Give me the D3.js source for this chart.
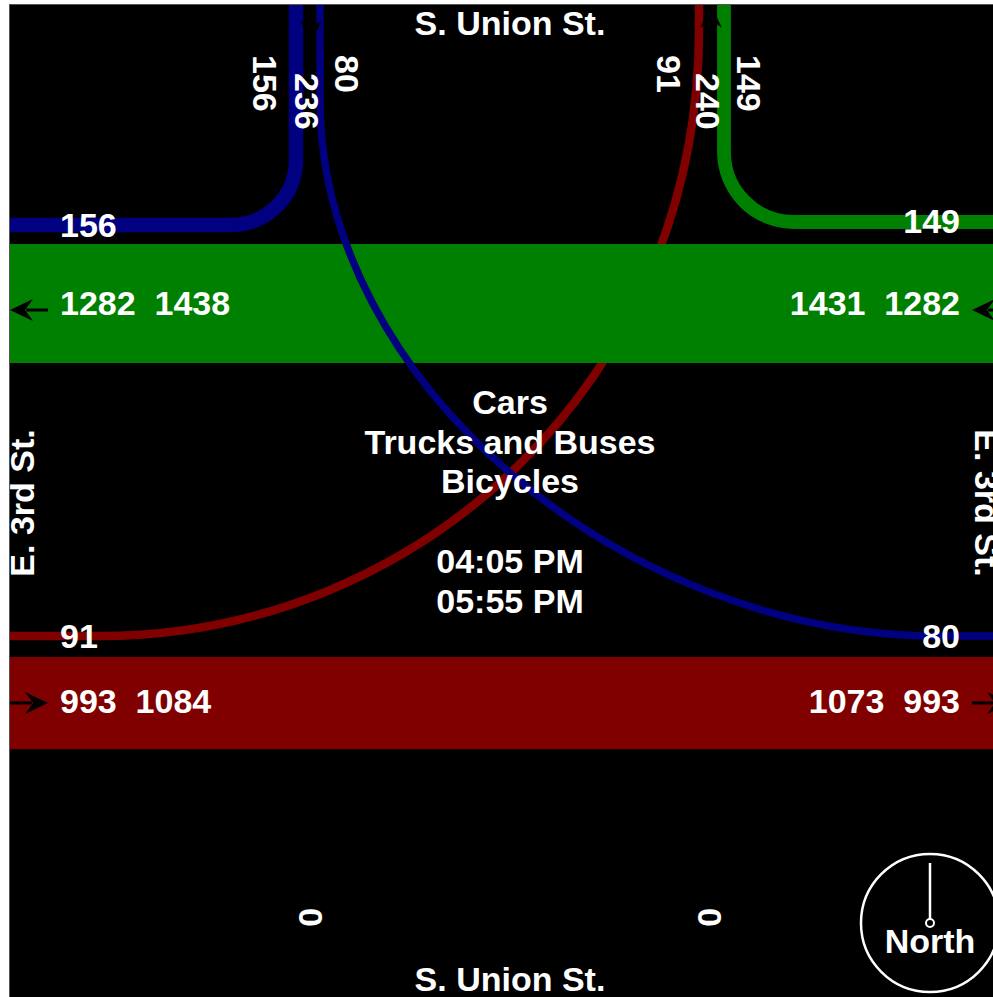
<!DOCTYPE html>
<html>
<head>
<meta charset="utf-8">
<script src="https://cdn.jsdelivr.net/npm/d3@7"></script>
<style>
  body { margin: 0; background: #ffffff; }
  svg text {
    font-family: "Liberation Sans", Arial, sans-serif;
    font-weight: bold;
    font-size: 34px;
    fill: #ffffff;
    white-space: pre;
  }
</style>
</head>
<body>
<div id="chart"></div>
<script>
// street names and headings
const streets = ["S. Union St.", "E. 3rd St."];
const modeLines = ["Cars", "Trucks and Buses", "Bicycles"];
const periodLines = ["04:05 PM", "05:55 PM"];

// turning movement counts
const movements = ["SB right", "SB left", "WB through", "WB right", "EB through", "EB left"];
const volumes = [156, 80, 1282, 149, 993, 91];
const southLeg = [0, 0]; // approach, exit

const vol = Object.fromEntries(movements.map((m, i) => [m, volumes[i]]));

const colors = { SB: "#000080", WB: "#008000", EB: "#800000" };

const svgWidth = 993;
const svgHeight = 997;
const frame = { x: 10, y: 5, size: 1000 };
const xLeft = frame.x, yTop = frame.y, xRight = frame.x + frame.size;

// stream thickness ~ volume
const wScale = d3.scaleLinear().domain([0, 1282]).range([0, 119]);

// road layout
const wbBandTop = 244, ebBandTop = 657;
const sbRightX = 296, sbLeftX = 320, ebLeftX = 699, wbRightX = 724;
const sbRightY = 225, wbRightY = 222, turnLowY = 636;

const svg = d3.select("#chart").append("svg")
    .attr("width", svgWidth)
    .attr("height", svgHeight);

svg.append("defs").append("clipPath")
    .attr("id", "frame")
    .append("rect")
    .attr("x", xLeft).attr("y", yTop)
    .attr("width", frame.size).attr("height", frame.size);

svg.append("rect")
    .attr("x", xLeft - 0.5).attr("y", yTop - 0.5)
    .attr("width", frame.size + 1).attr("height", frame.size + 1)
    .attr("fill", "#000000")
    .attr("stroke", "#555555")
    .attr("stroke-width", 1);

const g = svg.append("g").attr("clip-path", "url(#frame)");

const stream = (d, color, v) => {
    g.append("path")
        .attr("d", d.toString())
        .attr("fill", "none")
        .attr("stroke", color)
        .attr("stroke-width", wScale(v));
};

// EB left turn (under the WB band)
let p = d3.path();
p.moveTo(xLeft, turnLowY);
p.lineTo(100, turnLowY);
p.bezierCurveTo(420, turnLowY, ebLeftX, 380, ebLeftX, 30);
p.lineTo(ebLeftX, yTop);
stream(p, colors.EB, vol["EB left"]);

// through bands
g.append("rect")
    .attr("x", xLeft).attr("y", wbBandTop)
    .attr("width", frame.size).attr("height", wScale(vol["WB through"]))
    .attr("fill", colors.WB);
g.append("rect")
    .attr("x", xLeft).attr("y", ebBandTop)
    .attr("width", frame.size).attr("height", wScale(vol["EB through"]))
    .attr("fill", colors.EB);

// WB right turn
p = d3.path();
p.moveTo(wbRightX, yTop);
p.arcTo(wbRightX, wbRightY, xRight, wbRightY, 70);
p.lineTo(xRight, wbRightY);
stream(p, colors.WB, vol["WB right"]);

// SB right turn
p = d3.path();
p.moveTo(xLeft, sbRightY);
p.arcTo(sbRightX, sbRightY, sbRightX, yTop, 65);
p.lineTo(sbRightX, yTop);
stream(p, colors.SB, vol["SB right"]);

// SB left turn
p = d3.path();
p.moveTo(sbLeftX, yTop);
p.lineTo(sbLeftX, 100);
p.bezierCurveTo(sbLeftX, 380, 620, turnLowY, 940, turnLowY);
p.lineTo(xRight, turnLowY);
stream(p, colors.SB, vol["SB left"]);

// direction arrows
const arrow = (x1, y1, x2, y2) => {
    const a = Math.atan2(y2 - y1, x2 - x1);
    const len = 23, half = 11;
    const bx = x2 - len * Math.cos(a), by = y2 - len * Math.sin(a);
    const nx = -Math.sin(a) * half, ny = Math.cos(a) * half;
    g.append("line")
        .attr("x1", x1).attr("y1", y1).attr("x2", bx + (x2 - bx) * 0.3).attr("y2", by + (y2 - by) * 0.3)
        .attr("stroke", "#000000").attr("stroke-width", 3);
    g.append("path")
        .attr("d", `M${x2},${y2}L${bx + nx},${by + ny}L${bx + (x2 - bx) * 0.35},${by + (y2 - by) * 0.35}L${bx - nx},${by - ny}Z`)
        .attr("fill", "#000000");
};
arrow(48, 310, xLeft, 310);
arrow(xRight, 310, 972, 310);
arrow(xLeft, 703, 48, 703);
arrow(972, 703, xRight, 703);
arrow(311, yTop, 311, 43);
arrow(711, 43, 711, yTop);

// labels
const label = (x, y, txt, anchor, angle) => {
    g.append("text")
        .attr("transform", `translate(${x},${y})` + (angle ? ` rotate(${angle})` : ""))
        .attr("text-anchor", anchor || "start")
        .text(txt);
};

label(510, 35, streets[0], "middle");
label(510, 991, streets[0], "middle");
label(34, 503, streets[1], "middle", -90);
label(975, 503, streets[1], "middle", 90);

modeLines.forEach((t, i) => label(510, 414 + i * 39.5, t, "middle"));
periodLines.forEach((t, i) => label(510, 573 + i * 39.5, t, "middle"));

// north leg counts
label(253, 55, String(vol["SB right"]), "start", 90);
label(295, 73, String(vol["SB right"] + vol["SB left"]), "start", 90);
label(335, 55, String(vol["SB left"]), "start", 90);
label(657, 55, String(vol["EB left"]), "start", 90);
label(696, 73, String(vol["EB left"] + vol["WB right"]), "start", 90);
label(737, 55, String(vol["WB right"]), "start", 90);

// south leg counts
label(299, 908, String(southLeg[0]), "start", 90);
label(698, 908, String(southLeg[1]), "start", 90);

// west leg
label(60, 237, String(vol["SB right"]));
label(60, 315, `${vol["WB through"]}  ${vol["WB through"] + vol["SB right"]}`);
label(60, 648, String(vol["EB left"]));
label(60, 713, `${vol["EB through"]}  ${vol["EB through"] + vol["EB left"]}`);

// east leg
label(960, 233, String(vol["WB right"]), "end");
label(960, 315, `${vol["WB through"] + vol["WB right"]}  ${vol["WB through"]}`, "end");
label(960, 648, String(vol["SB left"]), "end");
label(960, 713, `${vol["EB through"] + vol["SB left"]}  ${vol["EB through"]}`, "end");

// north arrow
const compass = g.append("g").attr("transform", "translate(930,923)");
compass.append("circle").attr("r", 69).attr("fill", "none").attr("stroke", "#ffffff").attr("stroke-width", 2.5);
compass.append("line").attr("x1", 0).attr("y1", -60).attr("x2", 0).attr("y2", -4)
    .attr("stroke", "#ffffff").attr("stroke-width", 2.5);
compass.append("circle").attr("r", 4).attr("fill", "#000000").attr("stroke", "#ffffff").attr("stroke-width", 2);
compass.append("text").attr("x", 0).attr("y", 30).attr("text-anchor", "middle").text("North");
</script>
</body>
</html>
